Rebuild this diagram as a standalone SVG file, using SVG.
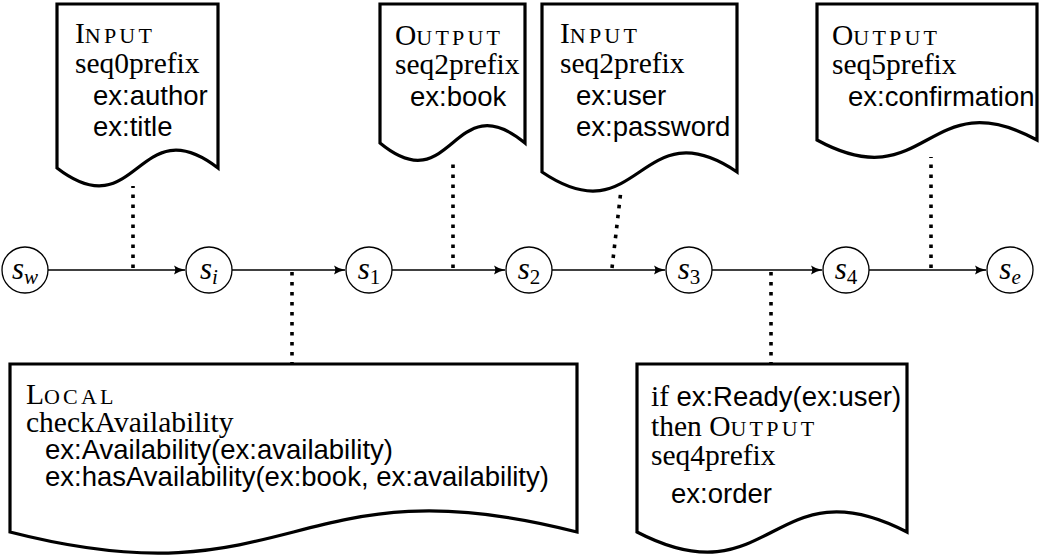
<svg xmlns="http://www.w3.org/2000/svg" width="1041" height="559" viewBox="0 0 1041 559">
  <defs>
    <marker id="arrow" viewBox="0 0 12 10" refX="11" refY="5" markerWidth="12" markerHeight="10" markerUnits="userSpaceOnUse" orient="auto">
      <path d="M0,0.5 Q5,4 11.5,5 Q5,6 0,9.5 Q2.5,5 0,0.5 Z" fill="#000"/>
    </marker>
    <style>
      .doc { fill: #fff; stroke: #000; stroke-width: 3.2; stroke-linejoin: miter; }
      .state { fill: #fff; stroke: #000; stroke-width: 1.3; }
      .flow { fill: none; stroke: #000; stroke-width: 1.7; marker-end: url(#arrow); }
      .dots { fill: none; stroke: #000; stroke-width: 3.6; stroke-dasharray: 3.6 6.4; }
      .rm { font-family: "Liberation Serif", "Times New Roman", serif; font-size: 29.5px; fill: #000; }
      .sc { font-size: 22px; letter-spacing: 3.2px; }
      .ss { font-family: "Liberation Sans", Arial, sans-serif; font-size: 27.5px; fill: #000; }
      .math { font-family: "Liberation Serif", "Times New Roman", serif; font-style: italic; font-size: 31px; fill: #000; text-anchor: middle; }
      .sub { font-size: 21px; }
    </style>
  </defs>

  <!-- connectors: transitions and the dotted annotation links -->
  <g id="connectors">
    <line class="flow" x1="48" y1="270" x2="185" y2="270"/>
    <line class="flow" x1="232" y1="270" x2="345" y2="270"/>
    <line class="flow" x1="392" y1="270" x2="505" y2="270"/>
    <line class="flow" x1="552" y1="270" x2="665" y2="270"/>
    <line class="flow" x1="712" y1="270" x2="822" y2="270"/>
    <line class="flow" x1="869" y1="270" x2="986" y2="270"/>

    <line class="dots" x1="133" y1="268" x2="133" y2="186"/>
    <line class="dots" x1="292" y1="272" x2="292" y2="364"/>
    <line class="dots" x1="453" y1="268" x2="453" y2="160"/>
    <line class="dots" x1="612" y1="268" x2="621" y2="190"/>
    <line class="dots" x1="771" y1="272" x2="771" y2="364"/>
    <line class="dots" x1="931" y1="268" x2="931" y2="157"/>
  </g>

  <!-- states -->
  <g id="s_w">
    <circle class="state" cx="25" cy="270" r="23"/>
    <text class="math" x="25" y="279">s<tspan class="sub" dy="5">w</tspan></text>
  </g>
  <g id="s_i">
    <circle class="state" cx="209" cy="270" r="23"/>
    <text class="math" x="209" y="279">s<tspan class="sub" dy="5">i</tspan></text>
  </g>
  <g id="s_1">
    <circle class="state" cx="369" cy="270" r="23"/>
    <text class="math" x="369" y="279">s<tspan class="sub" dy="5" font-style="normal">1</tspan></text>
  </g>
  <g id="s_2">
    <circle class="state" cx="529" cy="270" r="23"/>
    <text class="math" x="529" y="279">s<tspan class="sub" dy="5" font-style="normal">2</tspan></text>
  </g>
  <g id="s_3">
    <circle class="state" cx="689" cy="270" r="23"/>
    <text class="math" x="689" y="279">s<tspan class="sub" dy="5" font-style="normal">3</tspan></text>
  </g>
  <g id="s_4">
    <circle class="state" cx="846" cy="270" r="23"/>
    <text class="math" x="846" y="279">s<tspan class="sub" dy="5" font-style="normal">4</tspan></text>
  </g>
  <g id="s_e">
    <circle class="state" cx="1010" cy="270" r="23"/>
    <text class="math" x="1010" y="279">s<tspan class="sub" dy="5">e</tspan></text>
  </g>

  <!-- annotation documents -->
  <g id="input-seq0">
    <path class="doc" d="M57,168 V4 H218 V168 C137.5,106 137.5,230 57,168 Z"/>
    <text class="rm" x="75" y="43">I<tspan class="sc">NPUT</tspan></text>
    <text class="rm" x="75" y="73">seq0prefix</text>
    <text class="ss" x="93" y="105">ex:author</text>
    <text class="ss" x="93" y="136">ex:title</text>
  </g>

  <g id="output-seq2">
    <path class="doc" d="M380,143 V4 H525 V143 C452.5,83 452.5,203 380,143 Z"/>
    <text class="rm" x="395" y="45">O<tspan class="sc">UTPUT</tspan></text>
    <text class="rm" x="395" y="74">seq2prefix</text>
    <text class="ss" x="410" y="106">ex:book</text>
  </g>

  <g id="input-seq2">
    <path class="doc" d="M542,172 V4 H737 V172 C639.5,106 639.5,238 542,172 Z"/>
    <text class="rm" x="560" y="43">I<tspan class="sc">NPUT</tspan></text>
    <text class="rm" x="560" y="73">seq2prefix</text>
    <text class="ss" x="576" y="105">ex:user</text>
    <text class="ss" x="576" y="136">ex:password</text>
  </g>

  <g id="output-seq5">
    <path class="doc" d="M817,140 V4 H1037 V140 C927,80 927,200 817,140 Z"/>
    <text class="rm" x="832" y="45">O<tspan class="sc">UTPUT</tspan></text>
    <text class="rm" x="832" y="74">seq5prefix</text>
    <text class="ss" x="848" y="106">ex:confirmation</text>
  </g>

  <g id="local-check">
    <path class="doc" d="M10,532 V364 H577 V532 C293.5,459 293.5,605 10,532 Z"/>
    <text class="rm" x="26" y="404">L<tspan class="sc">OCAL</tspan></text>
    <text class="rm" x="26" y="432">checkAvailability</text>
    <text class="ss" x="45" y="459">ex:Availability(ex:availability)</text>
    <text class="ss" x="45" y="486">ex:hasAvailability(ex:book, ex:availability)</text>
  </g>

  <g id="conditional-output">
    <path class="doc" d="M637,532 V364 H907 V532 C772,462 772,602 637,532 Z"/>
    <text x="651" y="406"><tspan class="rm">if </tspan><tspan class="ss">ex:Ready(ex:user)</tspan></text>
    <text class="rm" x="651" y="436">then O<tspan class="sc">UTPUT</tspan></text>
    <text class="rm" x="651" y="465">seq4prefix</text>
    <text class="ss" x="671" y="503">ex:order</text>
  </g>
</svg>
